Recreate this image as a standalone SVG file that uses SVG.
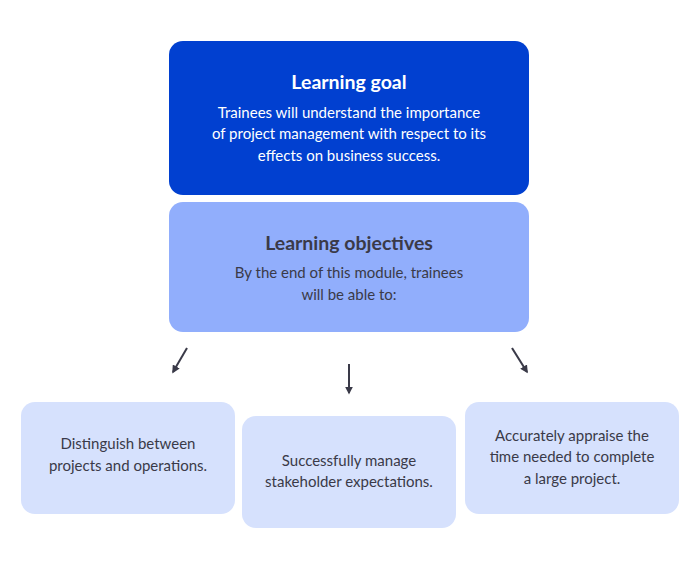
<svg xmlns="http://www.w3.org/2000/svg" width="700" height="582" viewBox="0 0 700 582">
<defs>
<style>
text{font-family:Lato,"Open Sans","Liberation Sans",sans-serif;text-anchor:middle}
.t{font-size:19.5px;font-weight:bold}
.b{font-size:15px}
.w{fill:#ffffff}
.d{fill:#3a3a48}
.card{fill:#d6e1fd}
.c{stroke:#3a3a48;stroke-width:2;fill:none;marker-end:url(#ah)}
</style>
<marker id="ah" viewBox="0 0 10 10" refX="8" refY="5" markerWidth="4" markerHeight="4" orient="auto" markerUnits="strokeWidth">
<path d="M0,0L10,5L0,10z" fill="#3a3a48"/>
</marker>
</defs>
<rect width="700" height="582" fill="#ffffff"/>
<g id="goal">
<rect x="169" y="41" width="360" height="154" rx="14" fill="#0140d0"/>
<text class="t w" x="349" y="89">Learning goal</text>
<text class="b w" x="349" y="118">Trainees will understand the importance</text>
<text class="b w" x="349" y="139">of project management with respect to its</text>
<text class="b w" x="349" y="161">effects on business success.</text>
</g>
<g id="objectives">
<rect x="169" y="202" width="360" height="130" rx="14" fill="#91aefc"/>
<text class="t d" x="349" y="250">Learning objectives</text>
<text class="b d" x="349" y="278">By the end of this module, trainees</text>
<text class="b d" x="349" y="300">will be able to:</text>
</g>
<g id="connectors">
<line class="c" x1="187" y1="348" x2="173" y2="372"/>
<line class="c" x1="349" y1="364" x2="349" y2="393"/>
<line class="c" x1="512" y1="348" x2="527" y2="372"/>
</g>
<g id="obj1">
<rect class="card" x="21" y="402" width="214" height="112" rx="14"/>
<text class="b d" x="128" y="449">Distinguish between</text>
<text class="b d" x="128" y="471">projects and operations.</text>
</g>
<g id="obj2">
<rect class="card" x="242" y="416" width="214" height="112" rx="14"/>
<text class="b d" x="349" y="466">Successfully manage</text>
<text class="b d" x="349" y="487">stakeholder expectations.</text>
</g>
<g id="obj3">
<rect class="card" x="465" y="402" width="214" height="112" rx="14"/>
<text class="b d" x="572" y="441">Accurately appraise the</text>
<text class="b d" x="572" y="462">time needed to complete</text>
<text class="b d" x="572" y="484">a large project.</text>
</g>
</svg>
